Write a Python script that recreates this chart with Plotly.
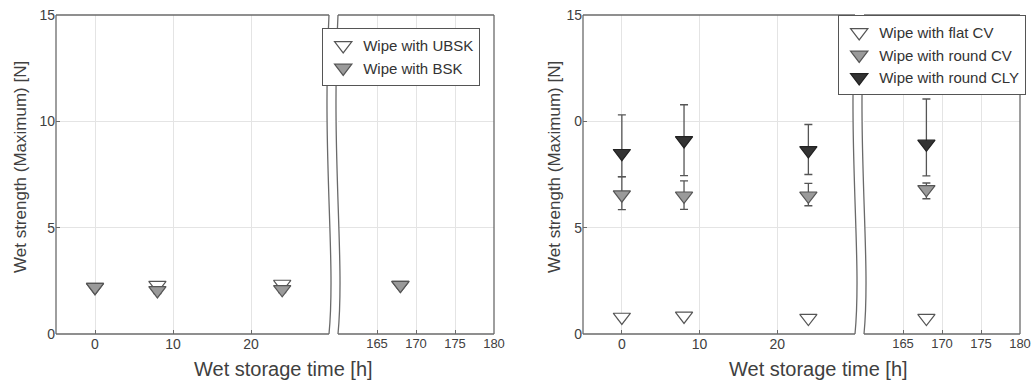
import plotly.graph_objects as go

W, H = 1036, 381

# ---------------- data ----------------
hours = [0, 8, 24, 168]

# left panel
ubsk = [2.2, 2.3, 2.35, 2.3]
ubsk_err = [0.1, 0.1, 0.1, 0.1]
bsk = [2.2, 2.05, 2.1, 2.3]
bsk_err = [0.12, 0.15, 0.15, 0.12]

# right panel
flat_cv = [0.8, 0.85, 0.75, 0.75]
flat_cv_err = [0.12, 0.12, 0.1, 0.1]
round_cv = [6.55, 6.5, 6.5, 6.8]
round_cv_plus = [0.84, 0.7, 0.58, 0.3]
round_cv_minus = [0.7, 0.64, 0.47, 0.44]
round_cly = [8.5, 9.1, 8.63, 8.94]
round_cly_plus = [1.8, 1.68, 1.22, 2.11]
round_cly_minus = [1.1, 1.65, 1.13, 1.5]

x_ticks_early = [0, 10, 20]
x_ticks_late = [165, 170, 175, 180]
y_ticks = [0, 5, 10, 15]
y_ticktext_left = ["0", "5", "10", "15"]
y_ticktext_right = ["0", "5", "0", "15"]

# ---------------- helpers ----------------
def PX(x):
    return x / W

def PY(y):
    return 1 - y / H

FONT = "Liberation Sans, Arial, sans-serif"
TXT = "#404040"
FRAME = "#6a6a6a"
GRID = "#e4e4e4"
ECOL = "#555555"

fig = go.Figure()


def add_series(name, y, eplus, eminus, fill, outline, xa_early, xa_late, ya, legend):
    early = [i for i, h in enumerate(hours) if h <= 30]
    late = [i for i, h in enumerate(hours) if h > 30]
    for idx, xa, show in ((early, xa_early, True), (late, xa_late, False)):
        fig.add_trace(go.Scatter(
            x=[hours[i] for i in idx],
            y=[y[i] for i in idx],
            mode="markers",
            marker=dict(symbol="triangle-down", size=15, color=fill,
                        line=dict(color=outline, width=1.2)),
            error_y=dict(type="data", symmetric=False,
                         array=[eplus[i] for i in idx],
                         arrayminus=[eminus[i] for i in idx],
                         color=ECOL, thickness=1.3, width=4),
            xaxis=xa, yaxis=ya, name=name, legend=legend,
            legendgroup=name, showlegend=show, hoverinfo="skip",
        ))


add_series("Wipe with UBSK", ubsk, ubsk_err, ubsk_err, "#ffffff", "#555555", "x", "x2", "y", "legend")
add_series("Wipe with BSK", bsk, bsk_err, bsk_err, "#9a9a9a", "#555555", "x", "x2", "y", "legend")
add_series("Wipe with flat CV", flat_cv, flat_cv_err, flat_cv_err, "#ffffff", "#555555", "x3", "x4", "y2", "legend2")
add_series("Wipe with round CV", round_cv, round_cv_plus, round_cv_minus, "#9a9a9a", "#555555", "x3", "x4", "y2", "legend2")
add_series("Wipe with round CLY", round_cly, round_cly_plus, round_cly_minus, "#333333", "#222222", "x3", "x4", "y2", "legend2")

TOP, BOT = 15, 334
panels = [
    # (left edge, break left, break right, right edge)
    (56, 329, 338, 494),
    (583, 855, 864, 1020),
]

ydom = [PY(BOT), PY(TOP)]

xcommon = dict(showgrid=True, gridcolor=GRID, gridwidth=1, zeroline=False,
               showline=False, ticks="inside", ticklen=4, tickcolor=FRAME,
               tickfont=dict(family=FONT, color=TXT, size=14))
ycommon = dict(showgrid=True, gridcolor=GRID, gridwidth=1, zeroline=False,
               showline=False, ticks="inside", ticklen=4, tickcolor=FRAME,
               range=[0, 15], domain=ydom, tickvals=y_ticks,
               tickfont=dict(family=FONT, color=TXT, size=14))

legend_common = dict(xanchor="left", yanchor="top", bgcolor="white",
                     bordercolor="#555555", borderwidth=1.2, tracegroupgap=0,
                     font=dict(family=FONT, size=15, color="#333333"))

layout = dict(
    width=W, height=H,
    margin=dict(l=0, r=0, t=0, b=0, pad=0, autoexpand=False),
    paper_bgcolor="white", plot_bgcolor="white",
    xaxis=dict(xcommon, domain=[PX(56), PX(329)], range=[-5, 30], tickvals=x_ticks_early, anchor="y"),
    xaxis2=dict(xcommon, domain=[PX(338), PX(494)], range=[160, 180], tickvals=x_ticks_late, anchor="y",
                tickfont=dict(family=FONT, color=TXT, size=13)),
    yaxis=dict(ycommon, anchor="x", ticktext=y_ticktext_left),
    xaxis3=dict(xcommon, domain=[PX(583), PX(855)], range=[-5, 30], tickvals=x_ticks_early, anchor="y2"),
    xaxis4=dict(xcommon, domain=[PX(864), PX(1020)], range=[160, 180], tickvals=x_ticks_late, anchor="y2",
                tickfont=dict(family=FONT, color=TXT, size=13)),
    yaxis2=dict(ycommon, anchor="x3", ticktext=y_ticktext_right),
    legend=dict(legend_common, x=PX(322), y=PY(28)),
    legend2=dict(legend_common, x=PX(1026), y=PY(15), xanchor="right"),
    showlegend=True,
)
fig.update_layout(**layout)

shapes = []


def line_px(x0, y0, x1, y1):
    shapes.append(dict(type="line", xref="paper", yref="paper",
                       x0=PX(x0), y0=PY(y0), x1=PX(x1), y1=PY(y1),
                       line=dict(color=FRAME, width=1.3), layer="above"))


def curve(x0):
    return (f"M {PX(x0)},{PY(TOP)} C {PX(x0 - 7)},{PY(160)} {PX(x0 + 7)},{PY(260)} {PX(x0)},{PY(BOT)}")


for (l, bl, br, r) in panels:
    # white gap between the break curves
    gap = (f"M {PX(bl)},{PY(TOP)} C {PX(bl - 7)},{PY(160)} {PX(bl + 7)},{PY(260)} {PX(bl)},{PY(BOT)} "
           f"L {PX(br)},{PY(BOT)} C {PX(br + 7)},{PY(260)} {PX(br - 7)},{PY(160)} {PX(br)},{PY(TOP)} Z")
    shapes.append(dict(type="path", xref="paper", yref="paper", path=gap,
                       fillcolor="white", line=dict(width=0), layer="above"))
    line_px(l, TOP, bl, TOP)
    line_px(l, BOT, bl, BOT)
    line_px(l, TOP, l, BOT)
    line_px(br, TOP, r, TOP)
    line_px(br, BOT, r, BOT)
    line_px(r, TOP, r, BOT)
    for xc in (bl, br):
        shapes.append(dict(type="path", xref="paper", yref="paper", path=curve(xc),
                           line=dict(color=FRAME, width=1.3), layer="above"))

fig.update_layout(shapes=shapes)

annotations = []
for cx, ty in ((283, 20), (818, 554)):
    annotations.append(dict(text="Wet storage time [h]", x=PX(cx), y=PY(369), xref="paper", yref="paper",
                            showarrow=False, xanchor="center", yanchor="middle",
                            font=dict(family=FONT, size=20, color=TXT)))
    annotations.append(dict(text="Wet strength (Maximum) [N]", x=PX(ty), y=PY(167), xref="paper", yref="paper",
                            showarrow=False, xanchor="center", yanchor="middle", textangle=-90,
                            font=dict(family=FONT, size=17, color=TXT)))
fig.update_layout(annotations=annotations)

post = ("document.documentElement.style.margin='0';"
        "document.documentElement.style.padding='0';"
        "document.documentElement.style.overflow='hidden';"
        "document.body.style.margin='0';"
        "document.body.style.padding='0';"
        "document.body.style.overflow='hidden';")

fig.write_html("out.html", post_script=post, config={"displayModeBar": False})
